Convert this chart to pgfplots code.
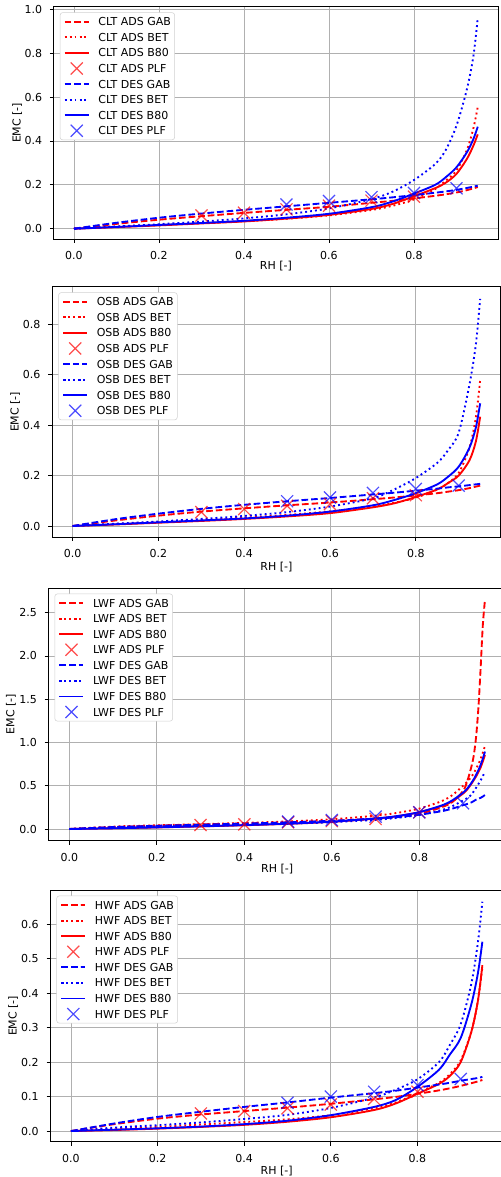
\documentclass[border=0pt]{standalone}
\usepackage{fontspec}
\setmainfont{DejaVu Sans}
\usepackage{pgfplots}
\usepackage{pgfplotstable}
\pgfplotsset{compat=1.18}
\definecolor{mplred}{RGB}{255,0,0}
\definecolor{mplblue}{RGB}{0,0,255}
\definecolor{gridgray}{RGB}{176,176,176}

% columns: rh, ADS GAB, ADS BET, ADS B80, DES GAB, DES BET, DES B80
\pgfplotstableread{
rh    ag     ab     a8     dg     db     d8
0     0      0      0      0      0      0
0.1   0.022  0.0097 0.007  0.027  0.010  0.008
0.2   0.041  0.0177 0.015  0.050  0.0205 0.017
0.3   0.057  0.0256 0.024  0.069  0.0325 0.026
0.4   0.072  0.0344 0.033  0.086  0.047  0.036
0.5   0.086  0.0454 0.046  0.102  0.0657 0.050
0.6   0.100  0.0608 0.063  0.118  0.0924 0.068
0.7   0.118  0.0854 0.090  0.134  0.135  0.098
0.75  0.127  0.1047 0.113  0.143  0.169  0.124
0.8   0.138  0.1335 0.148  0.153  0.222  0.160
0.85  0.150  0.181  0.185  0.164  0.295  0.200
0.875 0.157  0.220  0.210  0.170  0.360  0.235
0.9   0.165  0.265  0.250  0.177  0.470  0.280
0.925 0.176  0.362  0.320  0.186  0.640  0.350
0.94  0.184  0.460  0.380  0.192  0.790  0.410
0.95  0.190  0.555  0.430  0.196  0.960  0.465
}\clt
\pgfplotstableread{
rh   ads   des
0.3  0.060 nan
0.4  0.073 nan
0.5  0.088 0.110
0.6  0.105 0.126
0.7  0.128 0.144
0.8  0.146 0.163
0.9  nan   0.184
}\cltplf

\pgfplotstableread{
rh    ag     ab     a8     dg     db     d8
0     0      0      0      0      0      0
0.1   0.022  0.008  0.006  0.027  0.009  0.007
0.2   0.041  0.016  0.013  0.049  0.018  0.0145
0.3   0.057  0.024  0.020  0.068  0.028  0.022
0.4   0.070  0.033  0.028  0.084  0.040  0.030
0.5   0.082  0.044  0.038  0.098  0.055  0.041
0.6   0.093  0.058  0.051  0.111  0.077  0.057
0.7   0.106  0.077  0.074  0.125  0.110  0.082
0.75  0.113  0.092  0.090  0.132  0.145  0.103
0.8   0.121  0.112  0.115  0.140  0.190  0.130
0.85  0.130  0.145  0.145  0.148  0.250  0.165
0.875 0.136  0.170  0.170  0.153  0.300  0.195
0.9   0.142  0.210  0.200  0.157  0.370  0.235
0.925 0.150  0.310  0.260  0.162  0.560  0.310
0.94  0.156  0.430  0.335  0.165  0.720  0.390
0.95  0.160  0.578  0.433  0.167  0.900  0.486
}\osb
\pgfplotstableread{
rh   ads   des
0.3  0.055 nan
0.4  0.067 nan
0.5  0.080 0.098
0.6  0.087 0.113
0.7  0.110 0.131
0.8  0.122 0.147
0.9  nan   0.160
}\osbplf

\pgfplotstableread{
rh    ag     ab     a8     dg     db     d8
0     0      0      0      0      0      0
0.1   0.022  0.028  0.008  0.022  0.0195 0.008
0.2   0.038  0.043  0.018  0.037  0.030  0.019
0.3   0.052  0.056  0.030  0.050  0.039  0.031
0.4   0.064  0.070  0.043  0.063  0.048  0.045
0.5   0.077  0.088  0.060  0.077  0.061  0.062
0.6   0.094  0.113  0.083  0.095  0.078  0.085
0.7   0.120  0.154  0.120  0.120  0.106  0.122
0.75  0.140  0.187  0.148  0.137  0.129  0.150
0.8   0.175  0.236  0.195  0.165  0.163  0.195
0.85  0.250  0.320  0.265  0.205  0.218  0.270
0.875 0.310  0.390  0.320  0.235  0.263  0.330
0.9   0.440  0.500  0.410  0.275  0.330  0.420
0.91  0.560  0.550  0.460  0.290  0.360  0.470
0.92  0.740  0.610  0.530  0.310  0.400  0.540
0.925 0.870  0.650  0.570  0.325  0.441  0.580
0.93  1.080  0.700  0.610  0.340  0.480  0.630
0.935 1.400  0.750  0.660  0.350  0.520  0.680
0.94  1.850  0.810  0.710  0.360  0.560  0.740
0.945 2.350  0.880  0.780  0.375  0.610  0.810
0.95  2.650  0.960  0.855  0.393  0.663  0.895
}\lwf
\pgfplotstableread{
rh   ads   des
0.3  0.046 nan
0.4  0.054 nan
0.5  0.077 0.085
0.6  0.092 0.104
0.7  0.116 0.143
0.8  0.193 0.193
0.9  nan   0.297
}\lwfplf

\pgfplotstableread{
rh    ag     ab     a8     dg     db     d8
0     0      0      0      0      0      0
0.1   0.020  0.006  0.003  0.022  0.010  0.004
0.2   0.036  0.012  0.007  0.041  0.017  0.008
0.3   0.048  0.019  0.012  0.056  0.025  0.013
0.4   0.058  0.026  0.018  0.070  0.035  0.020
0.5   0.068  0.034  0.027  0.083  0.047  0.030
0.6   0.079  0.046  0.040  0.097  0.067  0.046
0.7   0.092  0.066  0.061  0.110  0.097  0.070
0.75  0.099  0.083  0.080  0.117  0.120  0.090
0.8   0.108  0.110  0.108  0.126  0.150  0.128
0.85  0.118  0.140  0.137  0.135  0.200  0.178
0.875 0.124  0.165  0.160  0.140  0.250  0.222
0.9   0.131  0.205  0.200  0.146  0.310  0.270
0.925 0.139  0.290  0.290  0.151  0.430  0.370
0.94  0.144  0.380  0.380  0.154  0.550  0.460
0.95  0.148  0.475  0.481  0.157  0.665  0.549
}\hwf
\pgfplotstableread{
rh   ads   des
0.3  0.051 nan
0.4  0.058 nan
0.5  0.066 0.082
0.6  0.077 0.100
0.7  0.093 0.114
0.8  0.114 0.133
0.9  nan   0.151
}\hwfplf

\pgfplotsset{
  emc/.style={
    scale only axis, anchor=south west,
    xmin=-0.0475, xmax=0.9975,
    xtick={0,0.2,0.4,0.6,0.8},
    scaled ticks=false,
    tick pos=left, tick align=outside, major tick length=2.9pt,
    every tick/.style={black, line width=0.6pt},
    axis line style={black, line width=0.6pt},
    grid=major, grid style={gridgray, line width=0.6pt},
    /pgf/number format/assume math mode=true,
    tick label style={font=\fontsize{8.25pt}{10pt}\selectfont},
    xticklabel style={/pgf/number format/fixed, /pgf/number format/fixed zerofill, /pgf/number format/precision=1},
    yticklabel style={/pgf/number format/fixed, /pgf/number format/fixed zerofill, /pgf/number format/precision=1},
    xticklabel shift=2.9pt, yticklabel shift=2.4pt,
    label style={font=\fontsize{8.25pt}{10pt}\selectfont},
    xlabel={RH [-]}, ylabel={EMC [-]},
    ylabel style={at={(axis description cs:-0.0825,0.5)}, anchor=center},
    legend cell align=left,
    legend image code/.code={
      \draw[mark repeat=2, mark phase=2, ##1] plot coordinates {(0pt,0pt) (9pt,0pt) (18pt,0pt)};},
    legend style={at={(axis description cs:0,1)}, anchor=north west, xshift=4.5pt, yshift=-4.2pt,
      font=\fontsize{8.25pt}{10pt}\selectfont,
      draw=black!18, rounded corners=2pt, fill=white,
      inner xsep=2.8pt, inner ysep=0pt, row sep=-2.02pt,
      nodes={inner sep=0pt, text height=9.85pt, text depth=3.85pt},
      /tikz/every odd column/.append style={column sep=6.5pt}},
  },
}

\newcommand{\panel}[2]{%
  \addplot[color=mplred, line width=1.4pt, dash pattern=on 5pt off 2.2pt, mark=none, smooth] table[x=rh, y=ag] {#1};
  \addplot[color=mplred, line width=1.4pt, dash pattern=on 1.4pt off 2.3pt, mark=none, smooth] table[x=rh, y=ab] {#1};
  \addplot[color=mplred, line width=1.4pt, solid, mark=none, smooth] table[x=rh, y=a8] {#1};
  \addplot[color=mplred, only marks, mark=x, mark size=6.4pt, mark options={solid, line width=0.9pt}, opacity=0.7] table[x=rh, y=ads] {#2};
  \addplot[color=mplblue, line width=1.4pt, dash pattern=on 5pt off 2.2pt, mark=none, smooth] table[x=rh, y=dg] {#1};
  \addplot[color=mplblue, line width=1.4pt, dash pattern=on 1.4pt off 2.3pt, mark=none, smooth] table[x=rh, y=db] {#1};
  \addplot[color=mplblue, line width=1.4pt, solid, mark=none, smooth] table[x=rh, y=d8] {#1};
  \addplot[color=mplblue, only marks, mark=x, mark size=6.4pt, mark options={solid, line width=0.9pt}, opacity=0.7] table[x=rh, y=des] {#2};
}

\begin{document}
\begin{tikzpicture}
\useasboundingbox (0pt,0pt) rectangle (375pt,-882.75pt);

\begin{axis}[emc, at={(40.35pt,-179.25pt)}, width=333.1pt, height=174.2pt,
  ymin=-0.047, ymax=1.012, ytick={0,0.2,0.4,0.6,0.8,1.0},
  xlabel style={at={(axis description cs:0.5,-0.115)}, anchor=center}]
\panel{\clt}{\cltplf}
\legend{CLT ADS GAB, CLT ADS BET, CLT ADS B80, CLT ADS PLF, CLT DES GAB, CLT DES BET, CLT DES B80, CLT DES PLF}
\end{axis}

\begin{axis}[emc, at={(39.2pt,-402.75pt)}, width=336.2pt, height=187.7pt,
  ymin=-0.0436, ymax=0.948, ytick={0,0.2,0.4,0.6,0.8},
  xlabel style={at={(axis description cs:0.5,-0.119)}, anchor=center}]
\panel{\osb}{\osbplf}
\legend{OSB ADS GAB, OSB ADS BET, OSB ADS B80, OSB ADS PLF, OSB DES GAB, OSB DES BET, OSB DES B80, OSB DES PLF}
\end{axis}

\begin{axis}[emc, at={(36.4pt,-630.5pt)}, width=342.9pt, height=189.5pt,
  ymin=-0.135, ymax=2.786, ytick={0,0.5,1.0,1.5,2.0,2.5},
  xlabel style={at={(axis description cs:0.5,-0.113)}, anchor=center}]
\panel{\lwf}{\lwfplf}
\legend{LWF ADS GAB, LWF ADS BET, LWF ADS B80, LWF ADS PLF, LWF DES GAB, LWF DES BET, LWF DES B80, LWF DES PLF}
\end{axis}

\begin{axis}[emc, at={(37.8pt,-856.3pt)}, width=339.4pt, height=188.8pt,
  ymin=-0.031, ymax=0.699, ytick={0,0.1,0.2,0.3,0.4,0.5,0.6},
  xlabel style={at={(axis description cs:0.5,-0.115)}, anchor=center}]
\panel{\hwf}{\hwfplf}
\legend{HWF ADS GAB, HWF ADS BET, HWF ADS B80, HWF ADS PLF, HWF DES GAB, HWF DES BET, HWF DES B80, HWF DES PLF}
\end{axis}
\end{tikzpicture}
\end{document}
